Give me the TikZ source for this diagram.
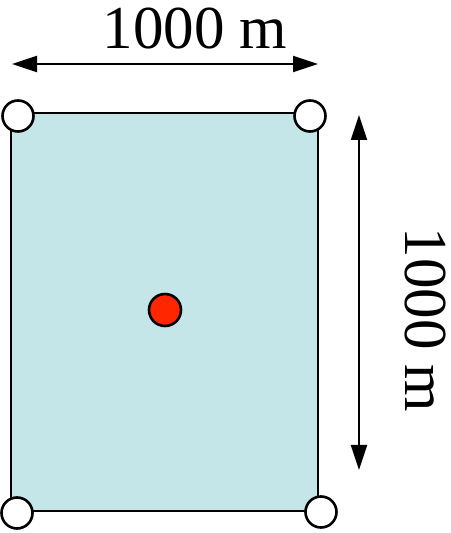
\documentclass[tikz,border=0pt]{standalone}
\usepackage{fontspec}
\setmainfont{Liberation Serif}
\usetikzlibrary{arrows.meta}
\definecolor{fieldfill}{RGB}{197,230,232}
\definecolor{dotred}{RGB}{255,38,0}
\tikzset{
  corner/.style={circle,draw=black,line width=2.6pt,fill=white,minimum size=31pt,inner sep=0pt},
  centerdot/.style={circle,draw=black,line width=2.6pt,fill=dotred,minimum size=32pt,inner sep=0pt},
  dim/.style={line width=2pt,{Triangle[length=25pt,width=16pt]}-{Triangle[length=25pt,width=16pt]}},
  dimlabel/.style={font=\fontsize{61}{61}\selectfont,inner sep=0pt}
}
\begin{document}
\begin{tikzpicture}[x=1pt,y=1pt]
\useasboundingbox (0,0) rectangle (450,533);
\draw[fill=fieldfill,line width=2.8pt] (11,420) rectangle (318,22);
\node[corner] (tl) at (18,417) {};
\node[corner] (tr) at (310,417) {};
\node[corner] (bl) at (17,20) {};
\node[corner] (br) at (321,21) {};
\node[centerdot] (c) at (165,223) {};
\coordinate (ha) at (12,469);
\coordinate (hb) at (318,469);
\draw[dim] (ha) -- (hb);
\node[dimlabel,anchor=base] (ht) at (195,484) {1000 m};
\coordinate (va) at (359,418);
\coordinate (vb) at (359,63);
\draw[dim] (va) -- (vb);
\node[dimlabel,anchor=base,rotate=-90] (vt) at (405,213) {1000 m};
\end{tikzpicture}
\end{document}
